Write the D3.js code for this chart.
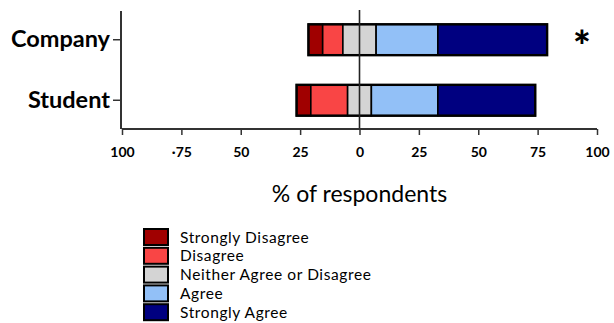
<!DOCTYPE html>
<html>
<head>
<meta charset="utf-8">
<script src="https://cdn.jsdelivr.net/npm/d3@7"></script>
<style>
  html, body { margin: 0; padding: 0; background: #fff; }
  svg { display: block; }
</style>
</head>
<body>
<svg id="chart" width="614" height="323"></svg>
<script>
// Diverging Likert responses, % of respondents per group
const categories = ["Company", "Student"];
const levels = ["Strongly Disagree", "Disagree", "Neither Agree or Disagree", "Agree", "Strongly Agree"];
const strongDisagree = [6, 6];
const disagree = [8.5, 15.5];
const neither = [14, 10];
const agree = [26, 28];
const strongAgree = [46, 41];
const significance = ["*", ""];
const tickValues = [-100, -75, -50, -25, 0, 25, 50, 75, 100];
const tickLabels = ["100", "·75", "50", "25", "0", "25", "50", "75", "100"];
const colors = ["#A00000", "#F94545", "#D4D4D4", "#92C0F7", "#000080"];

const series = [strongDisagree, disagree, neither, agree, strongAgree];
const font = "Lato, 'Open Sans', sans-serif";

const svg = d3.select("#chart");
const x = d3.scaleLinear().domain([-100, 100]).range([122, 597]);
const y = d3.scaleBand().domain(categories).range([11, 129]).paddingInner(0.49).paddingOuter(0.22);

// build stacked segments, neutral split around zero
const rows = categories.map((c, i) => {
  const vals = series.map(s => s[i]);
  let start = -(vals[0] + vals[1] + vals[2] / 2);
  const segs = vals.map((v, k) => {
    const seg = { cat: c, level: levels[k], k, x0: start, x1: start + v };
    start += v;
    return seg;
  });
  return { cat: c, segs, min: segs[0].x0, max: segs[4].x1, mark: significance[i] };
});

const g = svg.append("g");

rows.forEach(r => {
  g.selectAll(null).data(r.segs).enter().append("rect")
    .attr("x", d => x(d.x0))
    .attr("y", y(r.cat))
    .attr("width", d => x(d.x1) - x(d.x0))
    .attr("height", y.bandwidth())
    .attr("fill", d => colors[d.k])
    .attr("stroke", "#000")
    .attr("stroke-width", 1.6);
  g.append("rect")
    .attr("x", x(r.min))
    .attr("y", y(r.cat))
    .attr("width", x(r.max) - x(r.min))
    .attr("height", y.bandwidth())
    .attr("fill", "none")
    .attr("stroke", "#000")
    .attr("stroke-width", 2.4);
  if (r.mark) {
    g.append("text")
      .attr("x", 582)
      .attr("y", y(r.cat) + y.bandwidth() / 2 + 21)
      .attr("text-anchor", "middle")
      .attr("font-family", font)
      .attr("font-weight", "900")
      .attr("font-size", 42)
      .text(r.mark);
  }
});

// zero reference line
svg.append("line")
  .attr("x1", x(0)).attr("x2", x(0))
  .attr("y1", 10).attr("y2", 129)
  .attr("stroke", "#222").attr("stroke-width", 1.6);

// y axis
const yAxis = d3.axisLeft(y).tickSize(8).tickPadding(3);
const ya = svg.append("g").attr("transform", "translate(121,0)").call(yAxis);
ya.select(".domain").attr("d", "M0,11V129").attr("stroke", "#333").attr("stroke-width", 2);
ya.selectAll(".tick line").attr("stroke", "#333").attr("stroke-width", 1.5);
ya.selectAll(".tick text")
  .attr("font-family", font).attr("font-weight", "bold").attr("font-size", 23.5)
  .attr("fill", "#000");

// x axis
const xAxis = d3.axisBottom(x).tickValues(tickValues).tickSize(6).tickPadding(12)
  .tickFormat((d, i) => tickLabels[i]);
const xa = svg.append("g").attr("transform", "translate(0,129)").call(xAxis);
xa.select(".domain").attr("d", `M${x(-100)},0H${x(100)}`).attr("stroke", "#333").attr("stroke-width", 2);
xa.selectAll(".tick line").attr("stroke", "#333").attr("stroke-width", 1.5);
xa.selectAll(".tick text")
  .attr("font-family", font).attr("font-weight", "bold").attr("font-size", 14)
  .attr("fill", "#000");

svg.append("text")
  .attr("x", x(0)).attr("y", 202)
  .attr("text-anchor", "middle")
  .attr("font-family", font).attr("font-size", 23)
  .text("% of respondents");

// legend
const legend = svg.append("g").attr("transform", "translate(144,229)");
const item = legend.selectAll("g").data(levels).enter().append("g")
  .attr("transform", (d, i) => `translate(0,${i * 18.8})`);
item.append("rect")
  .attr("width", 24).attr("height", 16)
  .attr("fill", (d, i) => colors[i])
  .attr("stroke", "#000").attr("stroke-width", 2);
item.append("text")
  .attr("x", 36).attr("y", 13.5)
  .attr("font-family", font).attr("font-size", 15.5)
  .attr("letter-spacing", 0.6)
  .text(d => d);
</script>
</body>
</html>
